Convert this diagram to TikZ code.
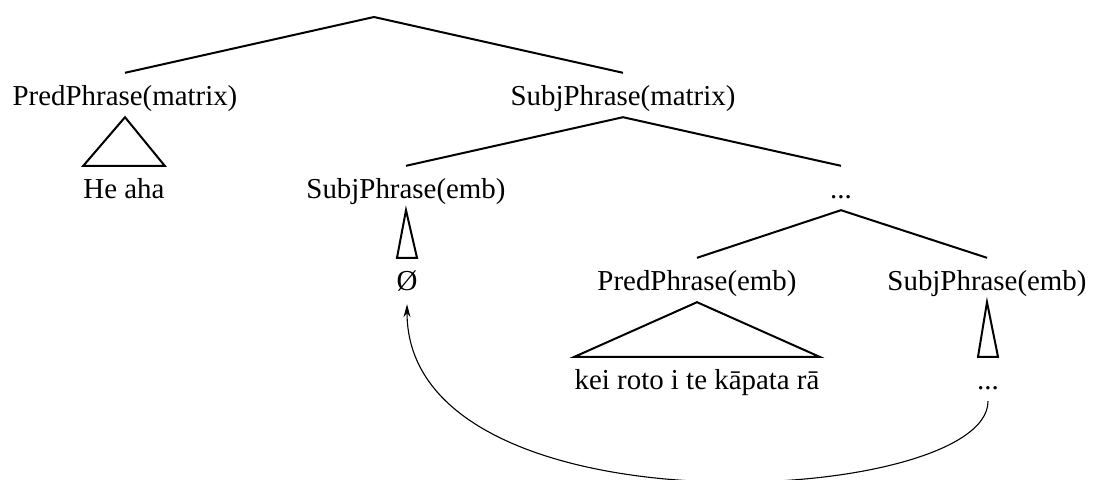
\documentclass[tikz,border=0pt]{standalone}
\usepackage{fontspec}
\setmainfont{Liberation Serif}
\usetikzlibrary{arrows.meta}
\begin{document}
\begin{tikzpicture}[x=1pt,y=-1pt,
  lbl/.style={anchor=base,inner xsep=0pt,inner ysep=7pt,text height=25pt,text depth=5pt,
    font=\fontsize{28.9}{34}\selectfont},
  branch/.style={line width=2pt,line join=miter},
  move/.style={line width=1.1pt,-{Stealth[length=13pt,width=7pt]}}]
  \useasboundingbox (0,0) rectangle (1094,479);

  % tree nodes
  \coordinate (root) at (374,17);
  \node[lbl] (pm)  at (125,105) {PredPhrase(matrix)};
  \node[lbl] (sm)  at (623,105) {SubjPhrase(matrix)};
  \node[lbl] (heaha) at (124,198) {He aha};
  \node[lbl] (se1) at (406,198) {SubjPhrase(emb)};
  \node[lbl] (dots1) at (841,198) {...};
  \node[lbl] (zero) at (407,290) {Ø};
  \node[lbl] (pe)  at (697,290) {PredPhrase(emb)};
  \node[lbl] (se2) at (987,290) {SubjPhrase(emb)};
  \node[lbl] (kei) at (697,389) {kei roto i te kāpata rā};
  \node[lbl] (dots2) at (988,389) {...};

  % branches
  \draw[branch] (pm.north) -- (root) -- (sm.north);
  \draw[branch] (se1.north) -- (sm.south) -- (dots1.north);
  \draw[branch] (pe.north) -- (dots1.south) -- (se2.north);

  % roof triangles
  \draw[branch] (pm.south) -- (heaha.north west) -- (heaha.north east) -- cycle;
  \draw[branch] (pe.south) -- (kei.north west) -- (kei.north east) -- cycle;
  \draw[branch] (se1.south) -- ([xshift=-10pt]zero.north) -- ([xshift=10pt]zero.north) -- cycle;
  \draw[branch] (se2.south) -- ([xshift=-10pt]dots2.north) -- ([xshift=10pt]dots2.north) -- cycle;

  % movement arrow
  \draw[move] (dots2.south) .. controls +(0,105) and +(0,235) .. ([yshift=-2pt]zero.south);
\end{tikzpicture}
\end{document}
